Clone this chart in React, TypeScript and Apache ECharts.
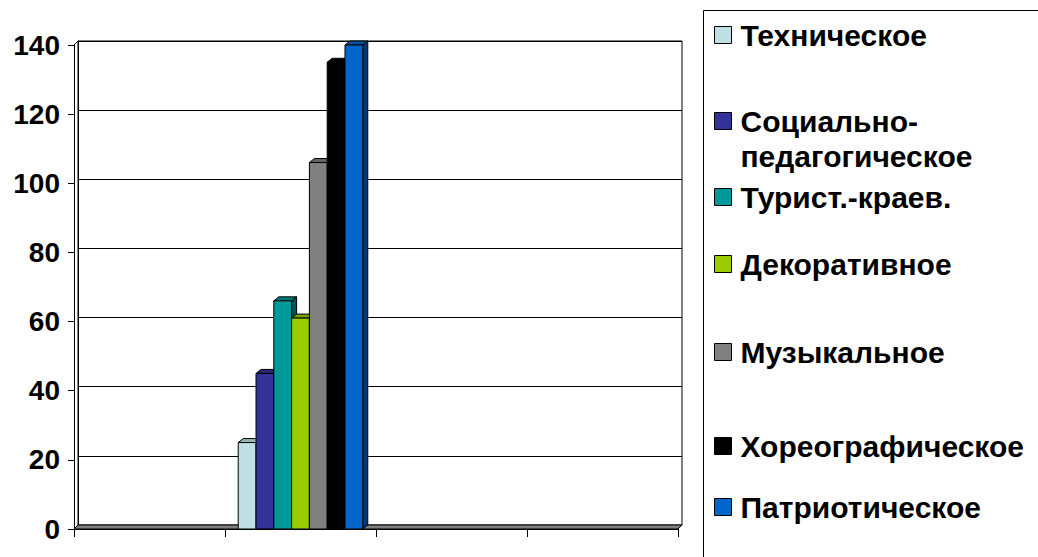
import React, { useEffect, useRef } from "react";
import * as echarts from "echarts";

const categorySlots = ["A", "B", "C", "D"];
const dataSlot = 1;
const seriesNames = [
  "Техническое",
  "Социально-педагогическое",
  "Турист.-краев.",
  "Декоративное",
  "Музыкальное",
  "Хореографическое",
  "Патриотическое",
];
const seriesValues = [25, 45, 66, 61, 106, 135, 140];
const seriesColors = ["#BFE1E5", "#333399", "#009999", "#99CC00", "#808080", "#000000", "#0066CC"];
const yTicks = { min: 0, max: 140, interval: 20 };
const legendCenters = [35, 121, 197, 264, 352, 446, 507];

const FONT = '"Liberation Sans", Arial, sans-serif';

function shade(hex: string, f: number) {
  const n = parseInt(hex.slice(1), 16);
  const r = Math.round(((n >> 16) & 255) * f);
  const g = Math.round(((n >> 8) & 255) * f);
  const b = Math.round((n & 255) * f);
  return `rgb(${r},${g},${b})`;
}

export default function App() {
  const ref = useRef<HTMLDivElement>(null);
  useEffect(() => {
    if (!ref.current) return;
    const chart = echarts.init(ref.current, undefined, { renderer: "svg" });
    const N = seriesNames.length;
    const dx = 5;
    const dy = -4;

    const series = seriesNames.map((name, i) => ({
      name,
      type: "custom",
      xAxisIndex: 1,
      yAxisIndex: 1,
      z: 3,
      itemStyle: { color: seriesColors[i], borderColor: "#000", borderWidth: 1 },
      data: [[dataSlot, seriesValues[i]]],
      encode: { x: 0, y: 1 },
      renderItem: (params: any, api: any) => {
        const idx = params.seriesIndex;
        const cat = api.value(0);
        const val = api.value(1);
        const base = api.coord([cat, 0]);
        const top = api.coord([cat, val]);
        const slot = api.size([1, 0])[0];
        const groupW = slot * 0.825;
        const w = groupW / N;
        const x0 = base[0] - groupW / 2 + idx * w;
        const c = seriesColors[idx];
        const stroke = { stroke: "#000", lineWidth: 1 };
        return {
          type: "group",
          children: [
            {
              type: "polygon",
              shape: {
                points: [
                  [x0 + w, top[1]],
                  [x0 + w + dx, top[1] + dy],
                  [x0 + w + dx, base[1] + dy],
                  [x0 + w, base[1]],
                ],
              },
              style: { fill: shade(c, 0.55), ...stroke },
            },
            {
              type: "polygon",
              shape: {
                points: [
                  [x0, top[1]],
                  [x0 + dx, top[1] + dy],
                  [x0 + w + dx, top[1] + dy],
                  [x0 + w, top[1]],
                ],
              },
              style: { fill: shade(c, 0.8), ...stroke },
            },
            {
              type: "rect",
              shape: { x: x0, y: top[1], width: w, height: base[1] - top[1] },
              style: { fill: c, ...stroke },
            },
          ],
        };
      },
    }));

    const LH = 35;
    const legends = seriesNames.map((name, i) => {
      const twoLine = name.indexOf("-педагог") >= 0;
      return {
        data: [name],
        left: 714,
        top: twoLine ? legendCenters[i] - (3 * LH) / 2 : legendCenters[i] - LH / 2,
        padding: 0,
        icon: "rect",
        itemWidth: 17,
        itemHeight: 17,
        itemStyle: { borderColor: "#000", borderWidth: 1 },
        selectedMode: false,
        formatter: (n: string) => (n.indexOf("Социально-") === 0 ? "\n" + n.replace("Социально-", "Социально-\n") : n),
        textStyle: {
          fontFamily: FONT,
          fontWeight: "bold",
          fontSize: 30,
          color: "#000",
          lineHeight: LH,
          padding: [0, 0, 0, 4],
        },
      };
    });

    const option: any = {
      animation: false,
      backgroundColor: "#fff",
      grid: [
        { left: 78, right: 1038 - 682, top: 41, bottom: 557 - 525, show: true, borderColor: "#000", borderWidth: 1, backgroundColor: "transparent" },
        { left: 74, right: 1038 - 678, top: 45, bottom: 557 - 529 },
      ],
      xAxis: [
        { type: "category", gridIndex: 0, data: categorySlots, show: false },
        {
          type: "category",
          gridIndex: 1,
          data: categorySlots,
          axisLine: { show: true, lineStyle: { color: "#000", width: 1 } },
          axisTick: { show: true, alignWithLabel: false, length: 8, lineStyle: { color: "#000" } },
          axisLabel: { show: false },
          splitLine: { show: false },
        },
      ],
      yAxis: [
        {
          type: "value",
          gridIndex: 0,
          ...yTicks,
          axisLine: { show: true, lineStyle: { color: "#000" } },
          axisTick: { show: false },
          axisLabel: { show: false },
          splitLine: { show: true, lineStyle: { color: "#000", width: 1 } },
        },
        {
          type: "value",
          gridIndex: 1,
          ...yTicks,
          axisLine: { show: true, lineStyle: { color: "#000" } },
          axisTick: { show: true, length: 6, lineStyle: { color: "#000" } },
          axisLabel: { fontFamily: FONT, fontWeight: "bold", fontSize: 28, color: "#000", margin: 14 },
          splitLine: { show: false },
        },
      ],
      legend: legends,
      graphic: [
        {
          type: "polygon",
          z: 1,
          shape: { points: [[74, 529], [678, 529], [682, 525], [78, 525]] },
          style: { fill: "#808080", stroke: "#000", lineWidth: 1 },
        },
        {
          type: "line",
          z: 1,
          shape: { x1: 74, y1: 45, x2: 78, y2: 41 },
          style: { stroke: "#000", lineWidth: 1 },
        },
        {
          type: "rect",
          z: 1,
          shape: { x: 703.5, y: 10.5, width: 500, height: 700 },
          style: { fill: "none", stroke: "#000", lineWidth: 1 },
        },
      ],
      series,
    };
    chart.setOption(option);
    return () => chart.dispose();
  }, []);
  return (
    <div
      ref={ref}
      style={{ position: "fixed", left: 0, top: 0, width: 1038, height: 557, background: "#fff" }}
    />
  );
}
